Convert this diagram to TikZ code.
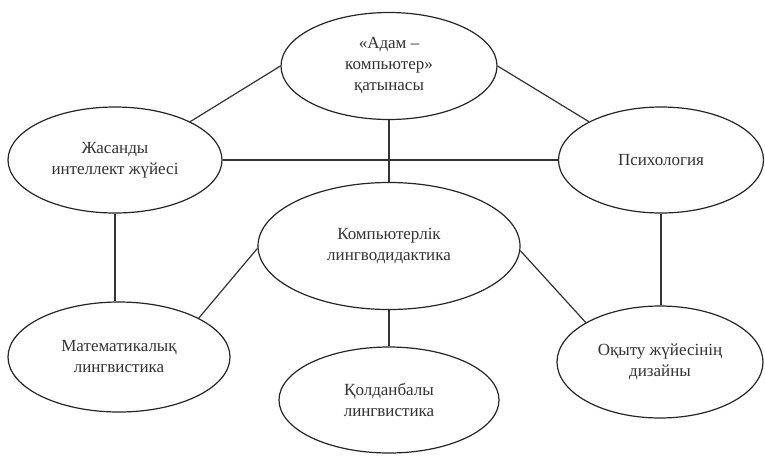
\documentclass[tikz,border=0pt]{standalone}
\usepackage{fontspec}
\setmainfont{Liberation Serif}
\usetikzlibrary{shapes.geometric}
\begin{document}
\begin{tikzpicture}[x=1pt,y=-1pt,
  oval/.style={draw=black!85,line width=1.2pt,ellipse,inner sep=0pt,align=center,
    text=black!80,font=\fontsize{17}{21}\selectfont},
  link/.style={draw=black!80,line width=1.2pt}]
\useasboundingbox[fill=white] (0,0) rectangle (765,456);
\node[oval,minimum width=216pt,minimum height=107pt] (top) at (389,66) {«Адам –\\компьютер»\\қатынасы};
\node[oval,minimum width=214pt,minimum height=106pt] (ai) at (115,160) {Жасанды\\интеллект жүйесі};
\node[oval,minimum width=205pt,minimum height=106pt] (psy) at (661,160) {Психология};
\node[oval,minimum width=262pt,minimum height=127pt] (mid) at (389,246) {Компьютерлік\\лингводидактика};
\node[oval,minimum width=222pt,minimum height=110pt] (math) at (119,357) {Математикалық\\лингвистика};
\node[oval,minimum width=220pt,minimum height=106pt] (app) at (389,400) {Қолданбалы\\лингвистика};
\node[oval,minimum width=206pt,minimum height=112pt] (des) at (660,362) {Оқыту жүйесінің\\дизайны};
\draw[link] (ai.27) -- (top.180);
\draw[link] (top.0) -- (psy.152);
\draw[link] (top.south) -- (mid.north);
\draw[link] (ai) -- (psy);
\draw[link] (ai.south) -- (ai.south |- math.north);
\draw[link] (psy.south) -- (psy.south |- des.north);
\draw[link] (mid.181) -- (math.26);
\draw[link] (mid.358) -- (des.152);
\draw[link] (mid.south) -- (app.north);
\end{tikzpicture}
\end{document}
